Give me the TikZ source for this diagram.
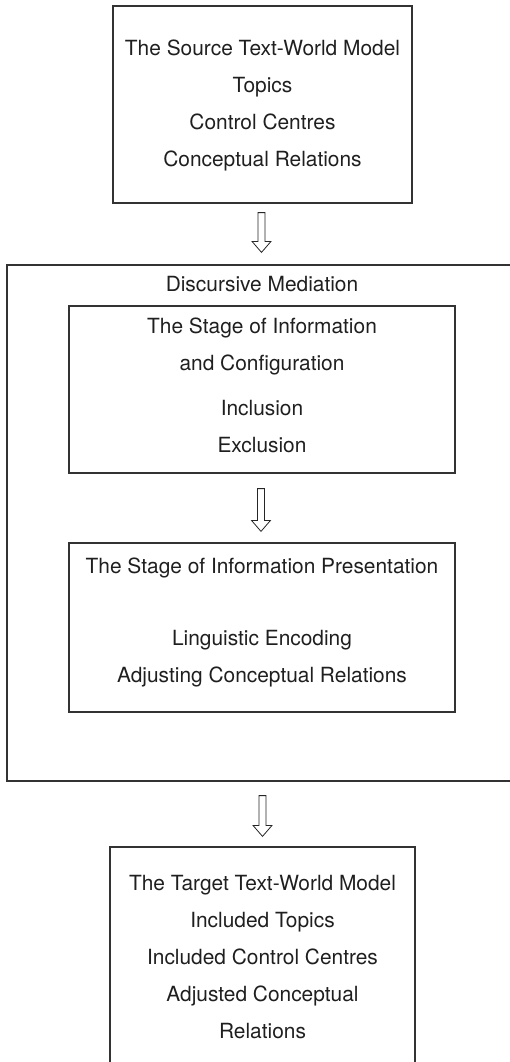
\documentclass[tikz,border=0pt]{standalone}
\usepackage{fontspec}
\setmainfont{TeX Gyre Heros}
\usetikzlibrary{calc}
\tikzset{
  box/.style={draw=black!80, line width=1.2pt, rectangle, inner sep=0pt},
  txt/.style={align=center, text=black!88, font=\fontsize{20.9}{37}\selectfont, inner sep=0pt},
  arr/.style={draw=black!85, line width=0.8pt, fill=white, line join=miter}
}
\newcommand\hollowarrow[2]{%
  \draw[arr] ($(#1)+(-3.5,0)$) -- ($(#2)+(-3.5,-11)$) -- ($(#2)+(-9.5,-11)$) -- (#2)
    -- ($(#2)+(9.5,-11)$) -- ($(#2)+(3.5,-11)$) -- ($(#1)+(3.5,0)$) -- cycle;}
\begin{document}
\begin{tikzpicture}[x=1pt,y=-1pt]
\useasboundingbox (0,0) rectangle (510,1062);
\clip (0,0) rectangle (510,1062);
% source box
\node[box, minimum width=299pt, minimum height=197pt] (src) at (262.5,104.5) {};
\node[txt] (srct) at (262.5,105) {The Source Text-World Model\\Topics\\Control Centres\\Conceptual Relations};
% big box
\node[box, minimum width=510pt, minimum height=516pt] (med) at (262,523) {};
\node[txt] (medt) at (262,284) {Discursive Mediation};
% stage 1
\node[box, minimum width=386pt, minimum height=167pt] (st1) at (262,389.5) {};
\node[txt] (st1t) at (262,385) {The Stage of Information\\and Configuration\\[8pt]Inclusion\\Exclusion};
% stage 2
\node[box, minimum width=386pt, minimum height=169pt] (st2) at (262,627.5) {};
\node[txt] (st2t) at (262,622) {The Stage of Information Presentation\\[35pt]Linguistic Encoding\\Adjusting Conceptual Relations};
% target box
\node[box, minimum width=305pt, minimum height=240pt] (tgt) at (262.5,967) {};
\node[txt] (tgtt) at (262.5,957) {The Target Text-World Model\\Included Topics\\Included Control Centres\\Adjusted Conceptual\\Relations};
% arrows
\coordinate (a1s) at ($(src.south)+(-1,9)$);
\coordinate (a1e) at ($(med.north)+(-0.5,-12)$);
\coordinate (a2s) at ($(st1.south)+(-1,15)$);
\coordinate (a2e) at ($(st2.north)+(-1,-11)$);
\coordinate (a3s) at ($(med.south)+(0.5,14)$);
\coordinate (a3e) at ($(tgt.north)+(0,-10)$);
\hollowarrow{a1s}{a1e}
\hollowarrow{a2s}{a2e}
\hollowarrow{a3s}{a3e}
\end{tikzpicture}
\end{document}
